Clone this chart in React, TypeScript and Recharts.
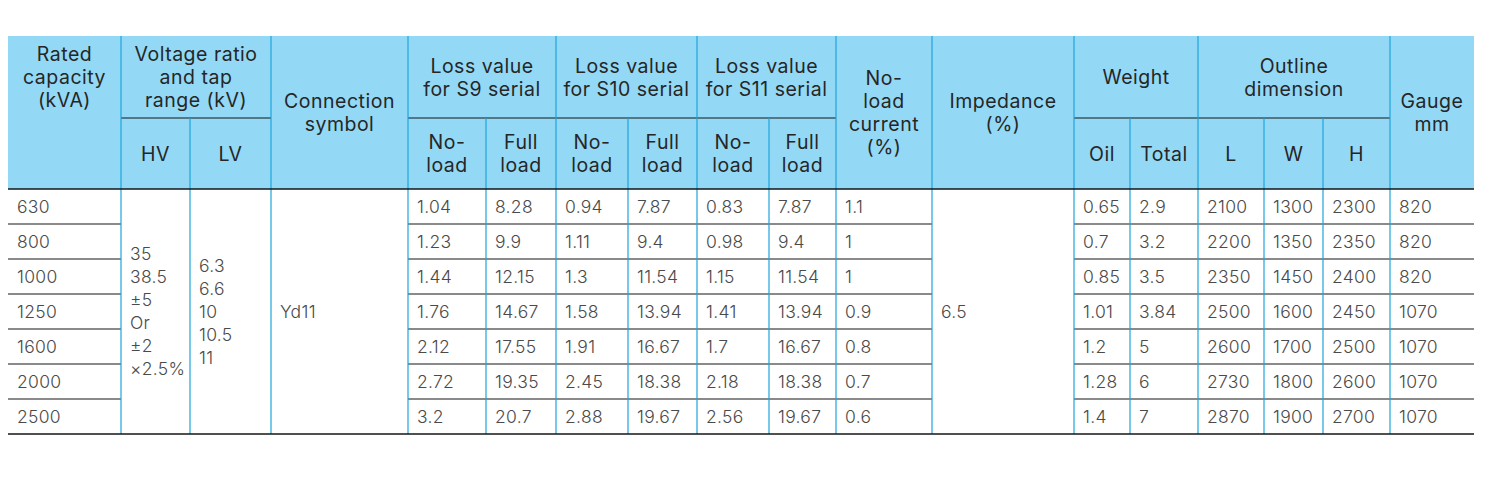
import React from "react";
import {
  ScatterChart,
  Scatter,
  XAxis,
  YAxis,
  ReferenceArea,
  ReferenceLine,
} from "recharts";

// ---- table data ----
const capacities = [630, 800, 1000, 1250, 1600, 2000, 2500];
const hvRange = ["35", "38.5", "±5", "Or", "±2", "×2.5%"];
const lvRange = ["6.3", "6.6", "10", "10.5", "11"];
const connectionSymbol = "Yd11";
const s9NoLoad = [1.04, 1.23, 1.44, 1.76, 2.12, 2.72, 3.2];
const s9FullLoad = [8.28, 9.9, 12.15, 14.67, 17.55, 19.35, 20.7];
const s10NoLoad = [0.94, 1.11, 1.3, 1.58, 1.91, 2.45, 2.88];
const s10FullLoad = [7.87, 9.4, 11.54, 13.94, 16.67, 18.38, 19.67];
const s11NoLoad = [0.83, 0.98, 1.15, 1.41, 1.7, 2.18, 2.56];
const s11FullLoad = [7.87, 9.4, 11.54, 13.94, 16.67, 18.38, 19.67];
const noLoadCurrent = [1.1, 1, 1, 0.9, 0.8, 0.7, 0.6];
const impedance = 6.5;
const oilWeight = [0.65, 0.7, 0.85, 1.01, 1.2, 1.28, 1.4];
const totalWeight = [2.9, 3.2, 3.5, 3.84, 5, 6, 7];
const outlineL = [2100, 2200, 2350, 2500, 2600, 2730, 2870];
const outlineW = [1300, 1350, 1450, 1600, 1700, 1800, 1900];
const outlineH = [2300, 2350, 2400, 2450, 2500, 2600, 2700];
const gauge = [820, 820, 820, 1070, 1070, 1070, 1070];

// top header row: [lines, first col, last col + 1, spans both header rows]
const topHeaders: [string[], number, number, boolean][] = [
  [["Rated", "capacity", "(kVA)"], 0, 1, false],
  [["Voltage ratio", "and tap", "range (kV)"], 1, 3, false],
  [["Connection", "symbol"], 3, 4, true],
  [["Loss value", "for S9 serial"], 4, 6, false],
  [["Loss value", "for S10 serial"], 6, 8, false],
  [["Loss value", "for S11 serial"], 8, 10, false],
  [["No-", "load", "current", "(%)"], 10, 11, true],
  [["Impedance", "(%)"], 11, 12, true],
  [["Weight"], 12, 14, false],
  [["Outline", "dimension"], 14, 17, false],
  [["Gauge", "mm"], 17, 18, true],
];
const subHeaders: [string[], number][] = [
  [["HV"], 1],
  [["LV"], 2],
  [["No-", "load"], 4],
  [["Full", "load"], 5],
  [["No-", "load"], 6],
  [["Full", "load"], 7],
  [["No-", "load"], 8],
  [["Full", "load"], 9],
  [["Oil"], 12],
  [["Total"], 13],
  [["L"], 14],
  [["W"], 15],
  [["H"], 16],
];
// per-row columns and the column they go in
const rowColumns: [number[], number][] = [
  [capacities, 0],
  [s9NoLoad, 4],
  [s9FullLoad, 5],
  [s10NoLoad, 6],
  [s10FullLoad, 7],
  [s11NoLoad, 8],
  [s11FullLoad, 9],
  [noLoadCurrent, 10],
  [oilWeight, 12],
  [totalWeight, 13],
  [outlineL, 14],
  [outlineW, 15],
  [outlineH, 16],
  [gauge, 17],
];
// merged body cells
const mergedCells: [string[], number][] = [
  [hvRange, 1],
  [lvRange, 2],
  [[connectionSymbol], 3],
  [[String(impedance)], 11],
];

// ---- layout ----
const W = 1487;
const H = 482;
const COL = [8, 121, 190, 271, 408, 486, 556, 628, 697, 769, 836, 932, 1074, 1130, 1198, 1264, 1323, 1390, 1474];
const HEAD_TOP = 36;
const HEAD_MID = 118;
const HEAD_BOTTOM = 189;
const ROW_H = 35;
const LINE_H = 23;
const PAD = 9;
const FONT = "Inter, 'Noto Sans', sans-serif";
const HEAD_BG = "#93d9f6";
const V_LINE = "#1ea3dc";
const H_LINE = "#161616";

const nRows = capacities.length;
const bodyBottom = HEAD_BOTTOM + ROW_H * nRows;
const bodyMid = (HEAD_BOTTOM + bodyBottom) / 2;

type Cell = { x: number; y: number; lines: string[]; head: boolean };

const headCells: Cell[] = [
  ...topHeaders.map(([lines, a, b, full]) => ({
    x: (COL[a] + COL[b]) / 2,
    y: full ? (HEAD_TOP + HEAD_BOTTOM) / 2 : (HEAD_TOP + HEAD_MID) / 2,
    lines,
    head: true,
  })),
  ...subHeaders.map(([lines, c]) => ({
    x: (COL[c] + COL[c + 1]) / 2,
    y: (HEAD_MID + HEAD_BOTTOM) / 2,
    lines,
    head: true,
  })),
];

const bodyCells: Cell[] = [
  ...rowColumns.flatMap(([vals, c]) =>
    vals.map((v, i) => ({
      x: COL[c] + PAD,
      y: HEAD_BOTTOM + ROW_H * (i + 0.5),
      lines: [String(v)],
      head: false,
    }))
  ),
  ...mergedCells.map(([lines, c]) => ({
    x: COL[c] + PAD,
    y: bodyMid,
    lines,
    head: false,
  })),
];

// columns whose body rows get horizontal rules
const ruledSpans: [number, number][] = [
  [0, 1],
  [4, 11],
  [12, 18],
];
// header: full-height dividers vs. sub-row dividers
const subDividers = [2, 5, 7, 9, 13, 15, 16];
const midRules: [number, number][] = [
  [1, 3],
  [4, 10],
  [12, 17],
];

const renderCell = (props: any) => {
  const { cx, cy, payload } = props;
  const n = payload.lines.length;
  const head = payload.head;
  return (
    <text
      x={cx}
      y={cy}
      textAnchor={head ? "middle" : "start"}
      fontFamily={FONT}
      fontSize={head ? 19.5 : 17.5}
      letterSpacing={head ? 0.5 : 0.3}
      fontWeight={head ? 400 : 300}
      fill={head ? "#262626" : "#4a4a4a"}
    >
      {payload.lines.map((l: string, i: number) => (
        <tspan key={i} x={cx} y={cy + (i - (n - 1) / 2) * LINE_H} dy="0.36em">
          {l}
        </tspan>
      ))}
    </text>
  );
};

export default function App() {
  const hLines: { y: number; x1: number; x2: number }[] = [];
  for (let r = 1; r < nRows; r++) {
    const y = HEAD_BOTTOM + ROW_H * r;
    ruledSpans.forEach(([a, b]) => hLines.push({ y, x1: COL[a], x2: COL[b] }));
  }
  midRules.forEach(([a, b]) => hLines.push({ y: HEAD_MID, x1: COL[a], x2: COL[b] }));

  const vLines: { x: number; y1: number; y2: number }[] = [];
  COL.slice(1, -1).forEach((x, i) => {
    const idx = i + 1;
    vLines.push({
      x,
      y1: subDividers.includes(idx) ? HEAD_MID : HEAD_TOP,
      y2: bodyBottom,
    });
  });

  return (
    <div style={{ position: "fixed", left: 0, top: 0, background: "#fff" }}>
      <ScatterChart width={W} height={H} margin={{ top: 0, right: 0, bottom: 0, left: 0 }}>
        <XAxis type="number" dataKey="x" domain={[0, W]} hide allowDataOverflow />
        <YAxis type="number" dataKey="y" domain={[0, H]} reversed hide allowDataOverflow />
        <ReferenceArea
          x1={COL[0]}
          x2={COL[COL.length - 1]}
          y1={HEAD_TOP}
          y2={HEAD_BOTTOM}
          fill={HEAD_BG}
          fillOpacity={1}
          stroke="none"
        />
        {hLines.map((l, i) => (
          <ReferenceLine
            key={`h${i}`}
            segment={[
              { x: l.x1, y: l.y },
              { x: l.x2, y: l.y },
            ]}
            stroke={H_LINE}
            strokeWidth={1.2}
          />
        ))}
        {vLines.map((l, i) => (
          <ReferenceLine
            key={`v${i}`}
            segment={[
              { x: l.x, y: l.y1 },
              { x: l.x, y: l.y2 },
            ]}
            stroke={V_LINE}
            strokeWidth={1.2}
          />
        ))}
        <ReferenceLine
          segment={[
            { x: COL[0], y: HEAD_BOTTOM },
            { x: COL[COL.length - 1], y: HEAD_BOTTOM },
          ]}
          stroke={H_LINE}
          strokeWidth={1.4}
        />
        <ReferenceLine
          segment={[
            { x: COL[0], y: bodyBottom },
            { x: COL[COL.length - 1], y: bodyBottom },
          ]}
          stroke={H_LINE}
          strokeWidth={1.4}
        />
        <Scatter data={headCells} shape={renderCell} isAnimationActive={false} />
        <Scatter data={bodyCells} shape={renderCell} isAnimationActive={false} />
      </ScatterChart>
    </div>
  );
}
